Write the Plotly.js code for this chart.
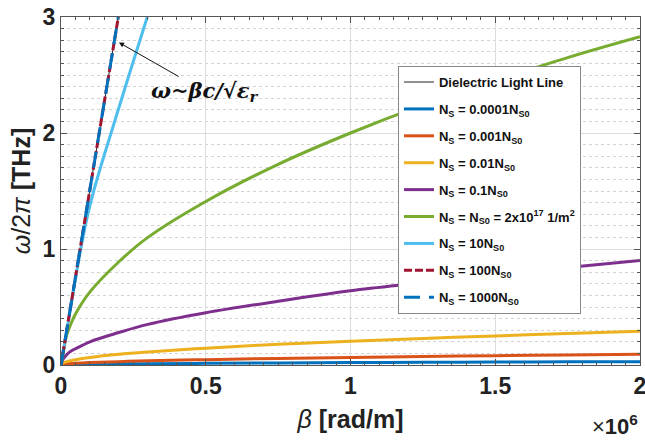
<!DOCTYPE html>
<html><head><meta charset="utf-8">
<script src="https://cdn.plot.ly/plotly-3.0.1.min.js"></script>
<style>html,body{margin:0;padding:0;background:#fff}#chart{width:645px;height:444px}</style>
</head><body><div id="chart"></div>
<script>
// beta in units of 1e6 rad/m, frequency in THz
const betaGrid = [0, 0.005, 0.01, 0.02, 0.035, 0.05, 0.1, 0.2, 0.3, 0.5, 0.75, 1.0, 1.25, 1.5, 1.75, 2.0];
const freqNs0001 = [0, 0.0015, 0.002, 0.003, 0.004, 0.0046, 0.0065, 0.0092, 0.011, 0.0145, 0.0178, 0.0205, 0.023, 0.025, 0.027, 0.029];
const freqNs001 = [0, 0.005, 0.007, 0.009, 0.012, 0.015, 0.021, 0.029, 0.036, 0.046, 0.056, 0.065, 0.073, 0.080, 0.086, 0.092];
const freqNs01 = [0, 0.014, 0.02, 0.029, 0.038, 0.046, 0.065, 0.092, 0.112, 0.145, 0.178, 0.205, 0.229, 0.251, 0.271, 0.29];
const freqNs1 = [0, 0.04, 0.06, 0.09, 0.12, 0.14, 0.20, 0.28, 0.35, 0.45, 0.55, 0.64, 0.71, 0.78, 0.84, 0.90];
const freqNs10 = [0, 0.07, 0.14, 0.26, 0.36, 0.44, 0.63, 0.89, 1.10, 1.41, 1.73, 2.00, 2.24, 2.45, 2.65, 2.83];
const betaNs100 = [0, 0.033, 0.066, 0.09, 0.113, 0.142, 0.173, 0.235, 0.298];
const freqNs100 = [0, 0.49, 0.97, 1.27, 1.5, 1.75, 2.0, 2.5, 3.0];
const betaLight = [0, 0.066, 0.132, 0.198];
const freqLight = [0, 1.0, 2.0, 3.0];

const legendNames = [
  'Dielectric Light Line',
  'N<sub>S</sub> = 0.0001N<sub>S0</sub>',
  'N<sub>S</sub> = 0.001N<sub>S0</sub>',
  'N<sub>S</sub> = 0.01N<sub>S0</sub>',
  'N<sub>S</sub> = 0.1N<sub>S0</sub>',
  'N<sub>S</sub> = N<sub>S0</sub> = 2x10<sup>17</sup> 1/m<sup>2</sup>',
  'N<sub>S</sub> = 10N<sub>S0</sub>',
  'N<sub>S</sub> = 100N<sub>S0</sub>',
  'N<sub>S</sub> = 1000N<sub>S0</sub>'
];
const colors = ['#222222', '#0072BD', '#D95319', '#EDB120', '#7E2F8E', '#77AC30', '#4DBEEE', '#A2142F', '#0072BD'];

function tr(x, y, i, width, dash, shape) {
  return {x: x, y: y, type: 'scatter', mode: 'lines', name: legendNames[i], legendgroup: 'g' + i,
    line: {color: colors[i], width: width, dash: dash || 'solid', shape: shape || 'linear'}, hoverinfo: 'skip'};
}
const data = [
  tr(betaLight, freqLight, 0, 1),
  tr(betaGrid, freqNs0001, 1, 3, null, 'spline'),
  tr(betaGrid, freqNs001, 2, 3, null, 'spline'),
  tr(betaGrid, freqNs01, 3, 3, null, 'spline'),
  tr(betaGrid, freqNs1, 4, 3, null, 'spline'),
  tr(betaGrid, freqNs10, 5, 3, null, 'spline'),
  tr(betaNs100, freqNs100, 6, 3, null, 'spline'),
  tr(betaLight, freqLight, 7, 3, '8px,3px'),
  tr(betaLight, freqLight, 8, 3, '16px,9px')
];

const fam = '"Liberation Sans", Arial, sans-serif';
const layout = {
  width: 645, height: 444,
  margin: {l: 61, r: 5, t: 17, b: 79},
  paper_bgcolor: '#fff', plot_bgcolor: '#fff',
  font: {family: fam, color: '#222'},
  showlegend: true,
  legend: {x: 0.582, y: 0.859, xanchor: 'left', yanchor: 'top', bgcolor: '#fff',
    bordercolor: '#888', borderwidth: 1, tracegroupgap: 7,
    font: {family: fam, size: 13, weight: 'bold', color: '#111'}},
  xaxis: {range: [0, 2], tick0: 0, dtick: 0.5, showgrid: true, gridcolor: '#dcdcdc', gridwidth: 1,
    zeroline: false, showline: true, linecolor: '#555', linewidth: 1, mirror: 'allticks',
    ticks: 'inside', ticklen: 6, tickcolor: '#555', ticklabeloverflow: 'allow',
    tickfont: {family: fam, size: 23, weight: 'bold', color: '#222'},
    minor: {dtick: 0.05, ticks: 'inside', ticklen: 3, tickcolor: '#555', showgrid: false},
    title: {text: '<i>β</i> <b>[rad/m]</b>', font: {family: fam, size: 25, color: '#222'}, standoff: 12}},
  yaxis: {range: [0, 3], tick0: 0, dtick: 1, showgrid: true, gridcolor: '#dcdcdc', gridwidth: 1,
    zeroline: false, showline: true, linecolor: '#555', linewidth: 1, mirror: 'allticks',
    ticks: 'inside', ticklen: 6, tickcolor: '#555',
    tickfont: {family: fam, size: 23, weight: 'bold', color: '#222'},
    minor: {dtick: 0.1, ticks: 'inside', ticklen: 3, tickcolor: '#555', showgrid: true,
      griddash: 'dot', gridcolor: '#d2d2d2', gridwidth: 1},
    title: {text: '<i>ω</i>/2<i>π</i> <b>[THz]</b>', font: {family: fam, size: 25, color: '#222'}, standoff: 4}},
  annotations: [
    {xref: 'paper', yref: 'paper', x: 1.0, y: -0.172, xanchor: 'right', yanchor: 'middle', showarrow: false,
      text: '×<b>10<sup>6</sup></b>', font: {family: fam, size: 22, color: '#222'}},
    {xref: 'x', yref: 'y', x: 0.2003, y: 2.78, ax: 86, ay: 49, showarrow: true, arrowhead: 2, arrowsize: 1,
      arrowwidth: 1, arrowcolor: '#111', text: '<b><i>ω~βc/√ε<sub>r</sub></i></b>',
      font: {family: '"DejaVu Serif", serif', size: 21, color: '#111'}}
  ]
};
Plotly.newPlot('chart', data, layout, {displayModeBar: false, staticPlot: true});
</script></body></html>
